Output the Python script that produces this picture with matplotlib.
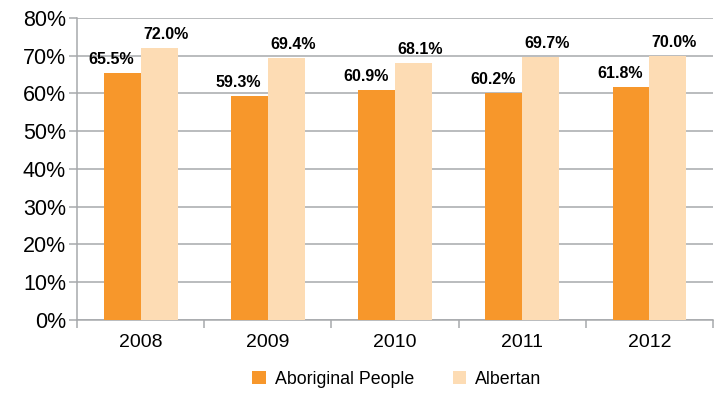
import numpy as np
import matplotlib.pyplot as plt
from matplotlib.ticker import FuncFormatter

# employment rates by year
years = ['2008', '2009', '2010', '2011', '2012']
aboriginal = [65.5, 59.3, 60.9, 60.2, 61.8]
albertan = [72.0, 69.4, 68.1, 69.7, 70.0]

plt.rcParams['font.family'] = ['Liberation Sans', 'DejaVu Sans']

orange = '#f7972b'
light = '#fddcb4'
grid_col = '#a7a9ac'

fig = plt.figure(figsize=(7.14, 3.98), dpi=100)
ax = fig.add_axes([0.108, 0.196, 0.8906, 0.759])

x = np.arange(len(years))
w = 0.29
b1 = ax.bar(x - w / 2, aboriginal, w, color=orange, label='Aboriginal People', zorder=3)
b2 = ax.bar(x + w / 2, albertan, w, color=light, label='Albertan', zorder=3)

# value labels, nudged apart so neighbouring labels don't touch
for bars, vals, dx in [(b1, aboriginal, -0.085), (b2, albertan, 0.05)]:
    for r, v in zip(bars, vals):
        ax.text(r.get_x() + r.get_width() / 2 + dx, v + 1.5, f'{v:.1f}%',
                ha='center', va='bottom', fontsize=11.5, fontweight='bold', zorder=4)

ax.set_ylim(0, 80)
ax.set_yticks(range(0, 81, 10))
ax.yaxis.set_major_formatter(FuncFormatter(lambda v, p: f'{v:.0f}%'))
ax.set_xlim(-0.5, len(years) - 0.5)

# category labels in the middle, tick marks on the group boundaries
ax.set_xticks(x)
ax.set_xticklabels(years, fontsize=14)
ax.set_xticks(np.arange(-0.5, len(years), 1), minor=True)
ax.tick_params(axis='x', which='major', length=0, pad=10)
ax.tick_params(axis='x', which='minor', length=6, width=1.1, color=grid_col, direction='out')
ax.tick_params(axis='y', labelsize=15.5, length=6, width=1.1, color=grid_col, pad=2)

ax.yaxis.grid(True, color=grid_col, linewidth=1.1, zorder=0)
for s in ['top', 'right']:
    ax.spines[s].set_visible(False)
for s in ['left', 'bottom']:
    ax.spines[s].set_color(grid_col)
    ax.spines[s].set_linewidth(1.1)

fig.legend(loc='lower center', bbox_to_anchor=(0.556, -0.015), ncol=2, frameon=False,
           fontsize=12.8, handlelength=0.75, handleheight=0.75, handletextpad=0.5,
           columnspacing=2.2)

fig.savefig('out.png', dpi=100)
